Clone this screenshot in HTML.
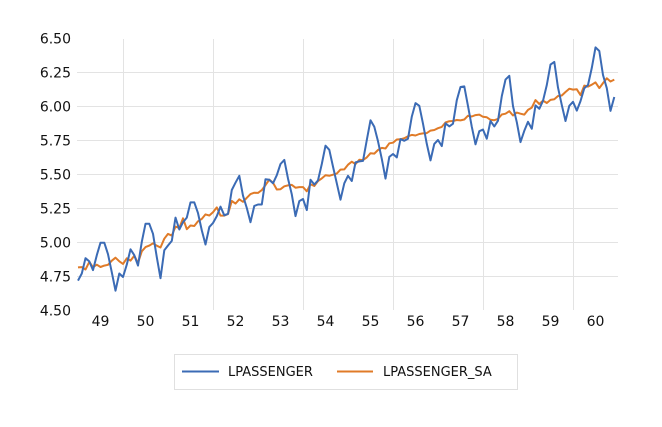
<!DOCTYPE html>
<html><head><meta charset="utf-8"><style>
body{margin:0;background:#fff;}
svg text{font-family:"DejaVu Sans","Liberation Sans",sans-serif;fill:#111;}
</style></head><body>
<svg id="c" width="662" height="422" xmlns="http://www.w3.org/2000/svg">
<rect width="662" height="422" fill="#fff"/>
<g id="grid" stroke="#e3e3e3" stroke-width="1"></g>
<g id="labels" font-size="14"></g>
<polyline id="sa" fill="none" stroke="#e07b28" stroke-width="2" stroke-linejoin="round"/>
<polyline id="lp" fill="none" stroke="#3b6bb5" stroke-width="2" stroke-linejoin="round"/>
<rect x="174.5" y="354.5" width="343" height="35" fill="none" stroke="#e0e0e0"/>
<line x1="182" y1="371.5" x2="219" y2="371.5" stroke="#3b6bb5" stroke-width="2"/>
<text x="228" y="376" font-size="13">LPASSENGER</text>
<line x1="337" y1="371.5" x2="373" y2="371.5" stroke="#e07b28" stroke-width="2"/>
<text x="383" y="376" font-size="13">LPASSENGER_SA</text>
</svg>
<script>
var d=[112,118,132,129,121,135,148,148,136,119,104,118,115,126,141,135,125,149,170,170,158,133,114,140,145,150,178,163,172,178,199,199,184,162,146,166,171,180,193,181,183,218,230,242,209,191,172,194,196,196,236,235,229,243,264,272,237,211,180,201,204,188,235,227,234,264,302,293,259,229,203,229,242,233,267,269,270,315,364,347,312,274,237,278,284,277,317,313,318,374,413,405,355,306,271,306,315,301,356,348,355,422,465,467,404,347,305,336,340,318,362,348,363,435,491,505,404,359,310,337,360,342,406,396,420,472,548,559,463,407,362,405,417,391,419,461,472,535,622,606,508,461,390,432];
var L=d.map(Math.log),n=L.length;
var dv=[];
for(var i=6;i<n-6;i++){var s=0.5*L[i-6]+0.5*L[i+6];for(var k=-5;k<=5;k++)s+=L[i+k];s/=12;dv[i]=L[i]-s;}
var sf=[];
for(var i=0;i<n;i++){var j=i;while(dv[j]===undefined){j+= (i<6)?12:-12;}
var a=0,c=0;for(var k=-12;k<=12;k+=12){if(dv[j+k]!==undefined){a+=dv[j+k];c++;}}sf[i]=a/c;}
for(var y=0;y<12;y++){var m=0;for(var k=0;k<12;k++)m+=sf[y*12+k];m/=12;for(var k=0;k<12;k++)sf[y*12+k]-=m;}
function X(i){return 78+i*3.75;}function Y(v){return 38.3+(6.5-v)*136;}
var p1=[],p2=[];for(var i=0;i<n;i++){p1.push(X(i).toFixed(1)+","+Y(L[i]).toFixed(1));p2.push(X(i).toFixed(1)+","+Y(L[i]-sf[i]).toFixed(1));}
document.getElementById('lp').setAttribute('points',p1.join(' '));
document.getElementById('sa').setAttribute('points',p2.join(' '));
var g=document.getElementById('grid'),lb=document.getElementById('labels'),ns="http://www.w3.org/2000/svg";
function el(t,a,par){var e=document.createElementNS(ns,t);for(var k in a)e.setAttribute(k,a[k]);par.appendChild(e);return e;}
for(var j=0;j<=8;j++){var v=4.5+j*0.25,y=Math.round(Y(v))+0.5;if(j>0&&j<8)el('line',{x1:77,x2:618,y1:y,y2:y},g);
var t=el('text',{x:71,y:y+5,'text-anchor':'end'},lb);t.textContent=v.toFixed(2);}
for(var j=0;j<6;j++){var x=123.5+90*j;el('line',{x1:x,x2:x,y1:39,y2:310},g);}
for(var j=0;j<12;j++){var t=el('text',{x:100.5+45*j,y:326,'text-anchor':'middle'},lb);t.textContent=49+j;}
</script>
</body></html>
